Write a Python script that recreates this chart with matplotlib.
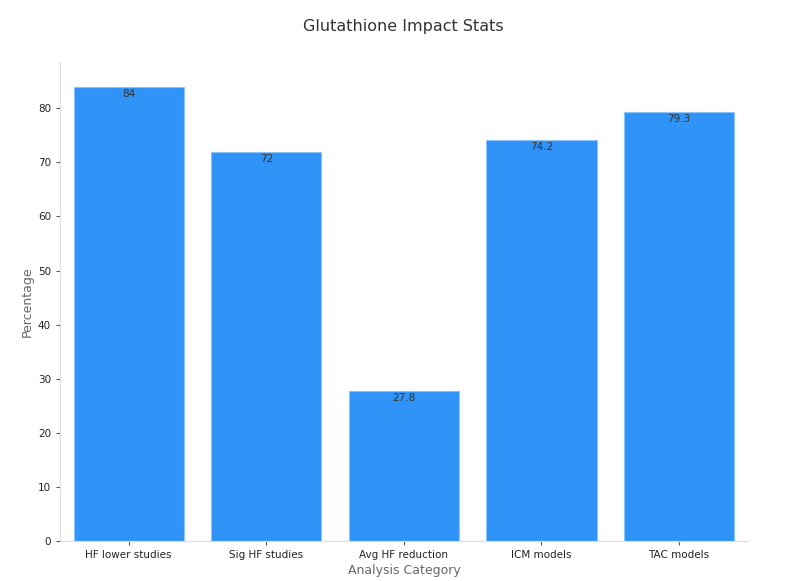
import matplotlib.pyplot as plt

categories = ['HF lower studies', 'Sig HF studies', 'Avg HF reduction', 'ICM models', 'TAC models']
values = [84, 72, 27.8, 74.2, 79.3]
value_labels = ['84', '72', '27.8', '74.2', '79.3']

fig = plt.figure(figsize=(7.99, 5.81), dpi=100)
ax = fig.add_axes([0.075, 0.0688, 0.861, 0.824])

x = range(len(categories))
bars = ax.bar(x, values, width=0.8, color='#2f93f7', edgecolor='#8cc4fa', linewidth=0.8)

for bar, lab in zip(bars, value_labels):
    ax.text(bar.get_x() + bar.get_width() / 2, bar.get_height() - 0.4, lab,
            ha='center', va='top', fontsize=7.5, color='#333333')

ax.set_xticks(list(x))
ax.set_xticklabels(categories, fontsize=7.5, color='#222222')
ax.set_yticks(range(0, 81, 10))
ax.tick_params(axis='y', labelsize=7.5, labelcolor='#222222', color='#555555', length=3)
ax.tick_params(axis='x', color='#555555', length=3)
ax.set_xlim(-0.5, 4.5)
ax.set_ylim(0, 88.5)

for s in ['top', 'right']:
    ax.spines[s].set_visible(False)
for s in ['left', 'bottom']:
    ax.spines[s].set_color('#dddddd')

ax.set_xlabel('Analysis Category', fontsize=9, color='#666666', labelpad=3)
ax.set_ylabel('Percentage', fontsize=9, color='#666666', labelpad=3)
fig.text(0.505, 0.955, 'Glutathione Impact Stats', ha='center', va='center',
         fontsize=11.5, color='#333333')

plt.savefig('out.png', dpi=100)
